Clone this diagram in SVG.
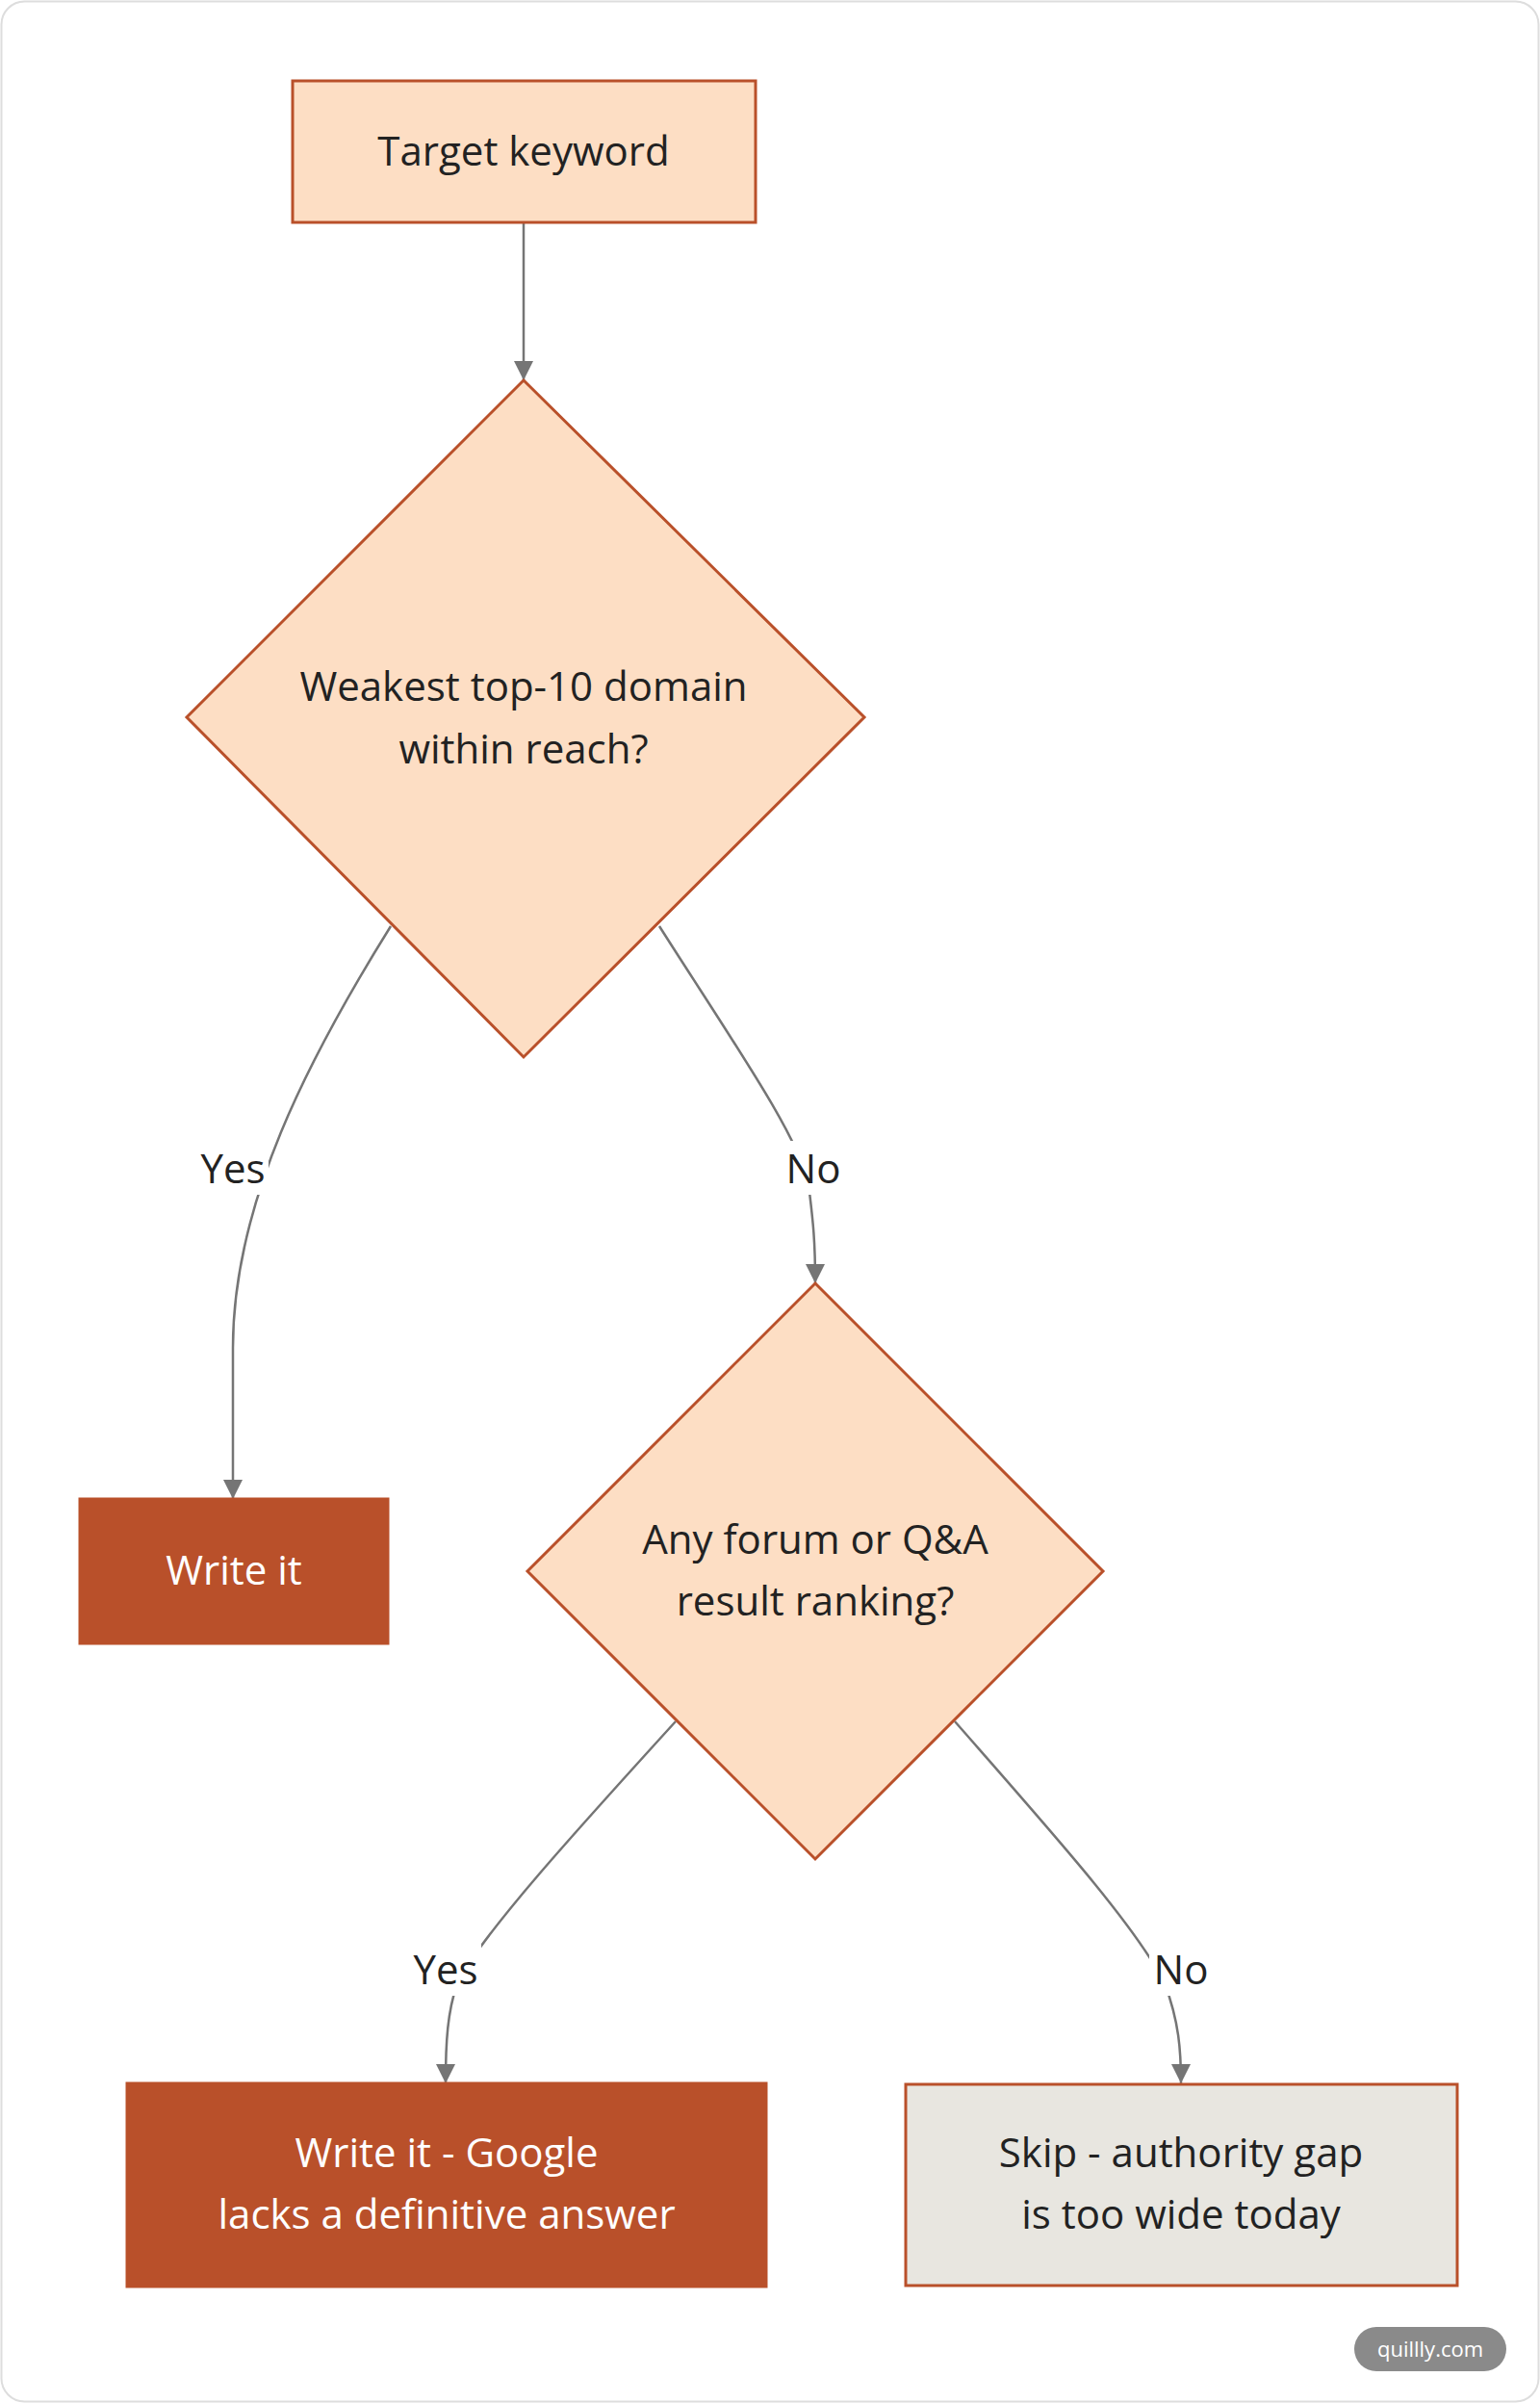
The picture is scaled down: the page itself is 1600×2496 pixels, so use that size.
<svg xmlns="http://www.w3.org/2000/svg" width="1600" height="2496" viewBox="0 0 1600 2496">
<style>
.n{fill:#FDDEC4;stroke:#B9502A;stroke-width:3}
.d{fill:#B9502A;stroke:#B9502A;stroke-width:3}
.g{fill:#E8E6E0;stroke:#B9502A;stroke-width:3}
text{font-family:"Open Sans","Liberation Sans",sans-serif;font-size:42px;text-anchor:middle;fill:#222}
.w{fill:#fff}
.e{fill:none;stroke:#757575;stroke-width:2.5}
.lb{fill:#fff}
</style>
<defs><marker id="a" viewBox="0 0 10 10" refX="9" refY="5" markerWidth="8" markerHeight="8" markerUnits="userSpaceOnUse" orient="auto"><path d="M0,0L10,5L0,10z" fill="#757575"/></marker>
<marker id="ah" viewBox="0 0 10 10" refX="10" refY="5" markerWidth="20" markerHeight="20" markerUnits="userSpaceOnUse" orient="auto"><path d="M0,0L10,5L0,10z" fill="#757575"/></marker></defs>
<rect x="1.5" y="1.5" width="1597" height="2493" rx="24" fill="#fff" stroke="#ddd" stroke-width="2"/>
<g id="edges">
<path class="e" d="M544,231L544,395" marker-end="url(#ah)"/>
<path class="e" d="M406,962C320,1100 242,1250 242,1400L242,1557" marker-end="url(#ah)"/>
<path class="e" d="M685,962C760,1080 830,1180 840,1230C845,1270 847,1290 847,1333" marker-end="url(#ah)"/>
<path class="e" d="M702,1788C600,1900 500,2010 475,2060C465,2090 463,2120 463,2164" marker-end="url(#ah)"/>
<path class="e" d="M992,1788C1090,1900 1180,2000 1210,2060C1225,2100 1227,2130 1227,2164" marker-end="url(#ah)"/>
<rect class="lb" x="205" y="1185" width="74" height="56"/><text x="242" y="1229">Yes</text>
<rect class="lb" x="812" y="1185" width="66" height="56"/><text x="845" y="1229">No</text>
<rect class="lb" x="426" y="2017" width="74" height="56"/><text x="463" y="2061">Yes</text>
<rect class="lb" x="1194" y="2017" width="66" height="56"/><text x="1227" y="2061">No</text>
</g>
<g id="n1"><rect class="n" x="304" y="84" width="481" height="147"/><text x="544" y="172">Target keyword</text></g>
<g id="n2"><polygon class="n" points="544,395 898,745 544,1098 194,745"/><text x="544" y="728">Weakest top-10 domain</text><text x="544" y="793">within reach?</text></g>
<g id="n3"><rect class="d" x="83" y="1557" width="320" height="150"/><text class="w" x="243" y="1646">Write it</text></g>
<g id="n4"><polygon class="n" points="847,1333 1146,1632 847,1931 548,1632"/><text x="847" y="1614">Any forum or Q&amp;A</text><text x="847" y="1678">result ranking?</text></g>
<g id="n5"><rect class="d" x="132" y="2164" width="664" height="211"/><text class="w" x="464" y="2251">Write it - Google</text><text class="w" x="464" y="2315">lacks a definitive answer</text></g>
<g id="n6"><rect class="g" x="941" y="2165" width="573" height="209"/><text x="1227" y="2251">Skip - authority gap</text><text x="1227" y="2315">is too wide today</text></g>
<g id="wm"><rect x="1407" y="2417" width="158" height="46" rx="23" fill="#8a8a8a"/><text x="1486" y="2448" style="font-size:22px;fill:#fff">quillly.com</text></g>
</svg>
